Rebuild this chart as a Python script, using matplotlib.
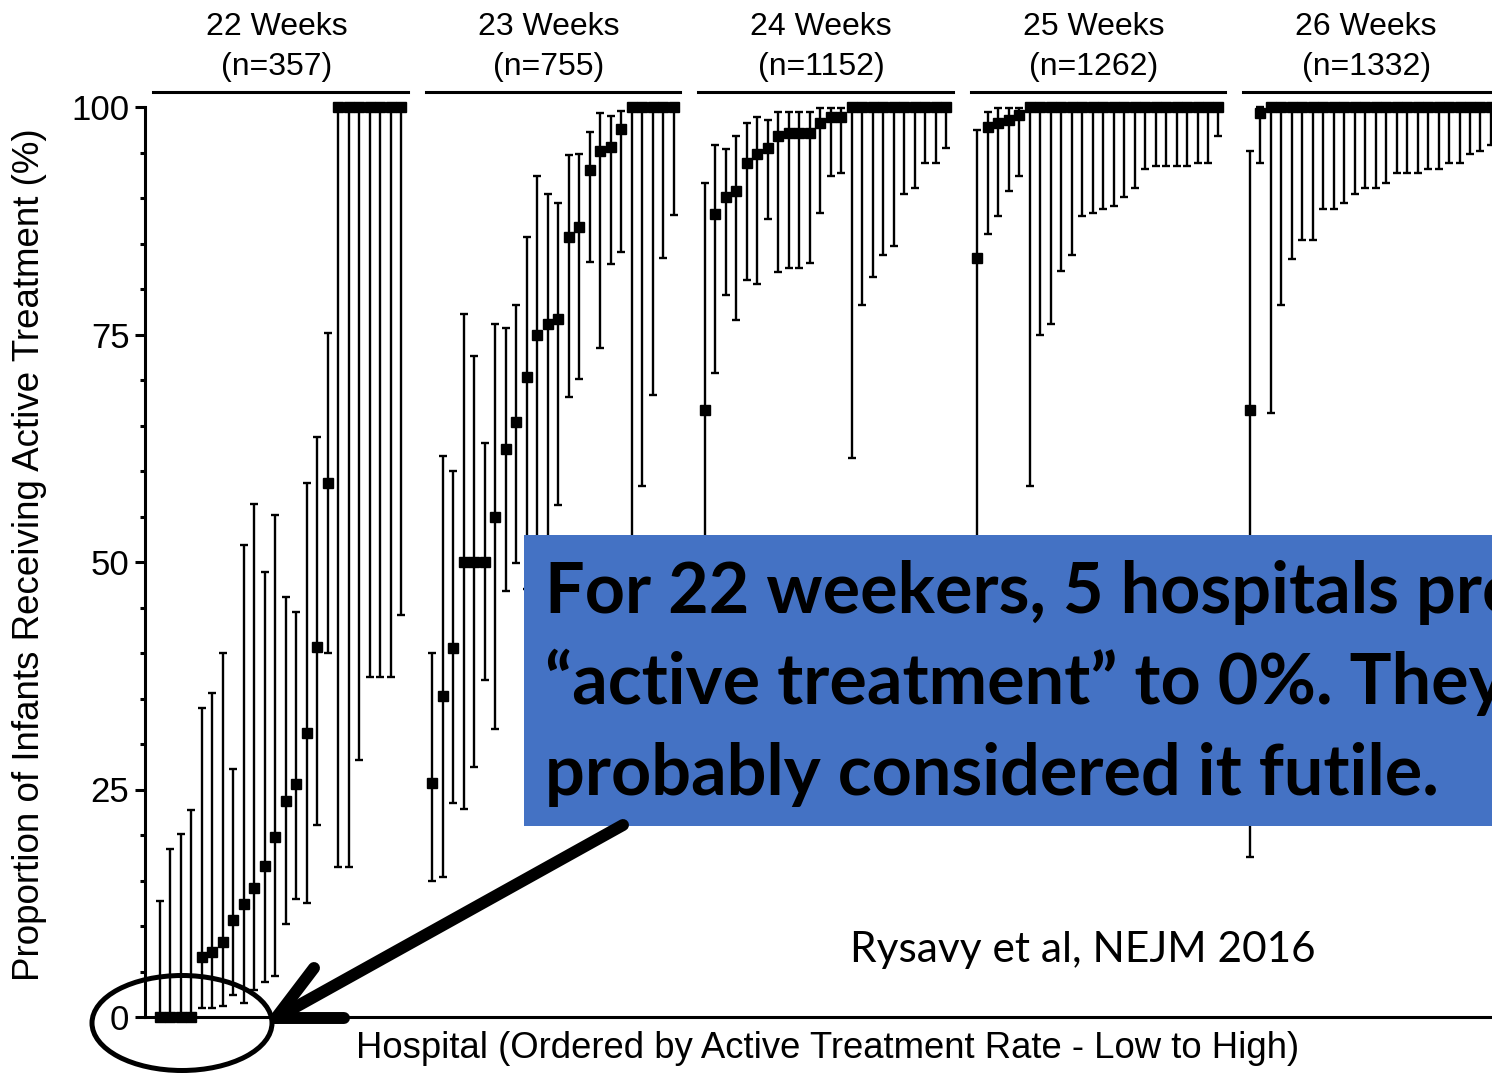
import numpy as np
import matplotlib.pyplot as plt
import matplotlib.transforms as mtransforms
from matplotlib.patches import Rectangle, Ellipse
from matplotlib.lines import Line2D

plt.rcParams['font.family'] = ['Liberation Sans', 'DejaVu Sans']

W, H = 1492, 1073

weeks = ['22 Weeks', '23 Weeks', '24 Weeks', '25 Weeks', '26 Weeks']
n_infants = [357, 755, 1152, 1262, 1332]

# active treatment rate (%) per hospital, with lower / upper interval bounds
rate_22 = [0, 0, 0, 0, 6.6, 7.1, 8.2, 10.7, 12.4, 14.2, 16.6, 19.8,
           23.7, 25.6, 31.2, 40.7, 58.7, 100, 100, 100, 100, 100, 100, 100]
low_22 = [0, 0, 0, 0, 1.0, 1.0, 1.2, 2.4, 1.5, 3.0, 3.8, 4.5,
          10.2, 13.0, 12.5, 21.1, 40.0, 16.5, 16.5, 28.2, 37.4, 37.4, 37.4, 44.2]
high_22 = [12.7, 18.5, 20.1, 22.7, 34.0, 35.6, 40.0, 27.2, 51.9, 56.4, 48.9, 55.2,
           46.1, 44.5, 58.7, 63.7, 75.2, 100, 100, 100, 100, 100, 100, 100]

rate_23 = [25.7, 35.3, 40.6, 50, 50, 50, 54.9, 62.4, 65.4, 70.3, 75.0, 76.2,
           76.7, 85.7, 86.8, 93.1, 95.2, 95.6, 97.6, 100, 100, 100, 100, 100]
low_23 = [15.0, 15.4, 23.5, 22.9, 27.5, 37.0, 31.7, 46.8, 49.9, 47.0, 49.0, 50.0,
          56.3, 68.1, 70.1, 83.0, 73.5, 82.7, 84.1, 42.0, 58.4, 68.4, 83.4, 88.1]
high_23 = [40.0, 61.7, 60.0, 77.2, 72.6, 63.1, 76.2, 75.7, 78.2, 85.7, 92.4, 90.4,
           89.5, 94.7, 94.8, 97.2, 99.3, 99.0, 99.6, 100, 100, 100, 100, 100]

rate_24 = [66.7, 88.2, 90.1, 90.8, 93.8, 94.8, 95.5, 96.8, 97.1, 97.1, 97.1, 98.2,
           98.9, 98.9, 100, 100, 100, 100, 100, 100, 100, 100, 100, 100]
low_24 = [36.0, 70.8, 79.3, 76.6, 81.0, 80.6, 87.7, 81.9, 82.3, 82.3, 82.9, 88.4,
          92.4, 92.8, 61.4, 78.2, 81.3, 83.7, 84.7, 90.4, 91.1, 93.9, 93.9, 95.5]
high_24 = [91.7, 95.8, 95.4, 96.8, 98.2, 98.9, 98.6, 99.5, 99.5, 99.5, 99.5, 99.9,
           99.9, 99.9, 100, 100, 100, 100, 100, 100, 100, 100, 100, 100]

rate_25 = [83.4, 97.8, 98.2, 98.6, 99.1, 100, 100, 100, 100, 100, 100, 100,
           100, 100, 100, 100, 100, 100, 100, 100, 100, 100, 100, 100]
low_25 = [40.0, 86.0, 88.0, 90.8, 92.4, 58.4, 74.9, 76.2, 82.0, 83.7, 88.0, 88.4,
          88.8, 89.1, 90.1, 91.1, 93.2, 93.5, 93.5, 93.5, 93.5, 93.9, 93.9, 96.8]
high_25 = [97.5, 99.5, 99.9, 99.9, 99.9, 100, 100, 100, 100, 100, 100, 100,
           100, 100, 100, 100, 100, 100, 100, 100, 100, 100, 100, 100]

rate_26 = [66.7, 99.3, 100, 100, 100, 100, 100, 100, 100, 100, 100, 100,
           100, 100, 100, 100, 100, 100, 100, 100, 100, 100, 100, 100]
low_26 = [17.6, 93.9, 66.4, 78.2, 83.3, 85.4, 85.4, 88.8, 88.8, 89.4, 90.4, 91.1,
          91.1, 91.7, 92.8, 92.8, 92.8, 93.2, 93.2, 93.8, 93.8, 94.8, 95.2, 95.8]
high_26 = [95.2, 100, 100, 100, 100, 100, 100, 100, 100, 100, 100, 100,
           100, 100, 100, 100, 100, 100, 100, 100, 100, 100, 100, 100]

panels = [(rate_22, low_22, high_22), (rate_23, low_23, high_23),
          (rate_24, low_24, high_24), (rate_25, low_25, high_25),
          (rate_26, low_26, high_26)]

box_lines = ['For 22 weekers, 5 hospitals provided',
             '\u201cactive treatment\u201d to 0%. They',
             'probably considered it futile.']
citation = 'Rysavy et al, NEJM 2016'

step = 26          # slots per gestational-age block (24 hospitals + gap)
unit_px = 10.48    # pixels per hospital slot
x0_px = 160        # first hospital column

fig = plt.figure(figsize=(W / 100, H / 100), dpi=100)
ax = fig.add_axes([145 / W, 1 - 1017 / H, (W - 145) / W, 910 / H])
ax.set_ylim(0, 100)
ax.set_xlim((145 - x0_px) / unit_px, (W - x0_px) / unit_px)

for side in ('top', 'right'):
    ax.spines[side].set_visible(False)
for side in ('left', 'bottom'):
    ax.spines[side].set_linewidth(2.2)

ax.set_xticks([])
ax.set_yticks([0, 25, 50, 75, 100])
ax.set_yticks(np.arange(0, 101, 5), minor=True)
ax.tick_params(axis='y', which='major', length=7.2, width=2.2, pad=4, labelsize=25)
ax.tick_params(axis='y', which='minor', length=3.6, width=2.2)

for p, (rate, lo, hi) in enumerate(panels):
    rate = np.array(rate)
    x = p * step + np.arange(len(rate))
    yerr = [rate - np.array(lo), np.array(hi) - rate]
    eb = ax.errorbar(x, rate, yerr=yerr, fmt='s', color='black', ms=7,
                     elinewidth=1.7, capsize=3, capthick=1.7)
    for art in eb.get_children():
        art.set_clip_on(False)

    # block header: rule + label
    ax.plot([p * step - 0.65, p * step + 23.65], [101.65, 101.65],
            color='black', lw=2.2, clip_on=False)
    ax.text(p * step + 11.1, 108.75, weeks[p], ha='center', va='center', fontsize=23)
    ax.text(p * step + 11.1, 104.35, f'(n={n_infants[p]})', ha='center',
            va='center', fontsize=23)

fig.text(30 / W, 1 - 555 / H, 'Proportion of Infants Receiving Active Treatment (%)',
         rotation=90, ha='center', va='center', fontsize=26.5)
fig.text(828 / W, 1 - 1048 / H,
         'Hospital (Ordered by Active Treatment Rate - Low to High)',
         ha='center', va='center', fontsize=26.3)

# callout drawn in pixel space (origin top-left)
px = mtransforms.Affine2D().scale(1 / W, -1 / H).translate(0, 1) + fig.transFigure

fig.add_artist(Rectangle((524, 535), W - 524 + 40, 291, transform=px,
                         facecolor='#4472C4', edgecolor='none', zorder=5))
for i, line in enumerate(box_lines):
    fig.text(545, 613 + i * 91, line, transform=px, va='baseline', ha='left',
             family=['Lato', 'DejaVu Sans'], fontweight='bold', fontsize=50.5,
             color='black', zorder=6)

fig.text(850, 962, citation, transform=px, va='baseline', ha='left',
         family=['Lato', 'DejaVu Sans'], fontsize=30.5, color='black', zorder=6)

arrow_kw = dict(transform=px, color='black', lw=8.6, solid_capstyle='round', zorder=7)
fig.add_artist(Line2D([623, 276], [825, 1018], **arrow_kw))
fig.add_artist(Line2D([276, 314], [1018, 968], **arrow_kw))
fig.add_artist(Line2D([276, 344], [1018, 1018], **arrow_kw))

fig.add_artist(Ellipse((182, 1023), 180, 95, transform=px, fill=False,
                       edgecolor='black', lw=3.6, zorder=7))

fig.savefig('out.png', dpi=100)
